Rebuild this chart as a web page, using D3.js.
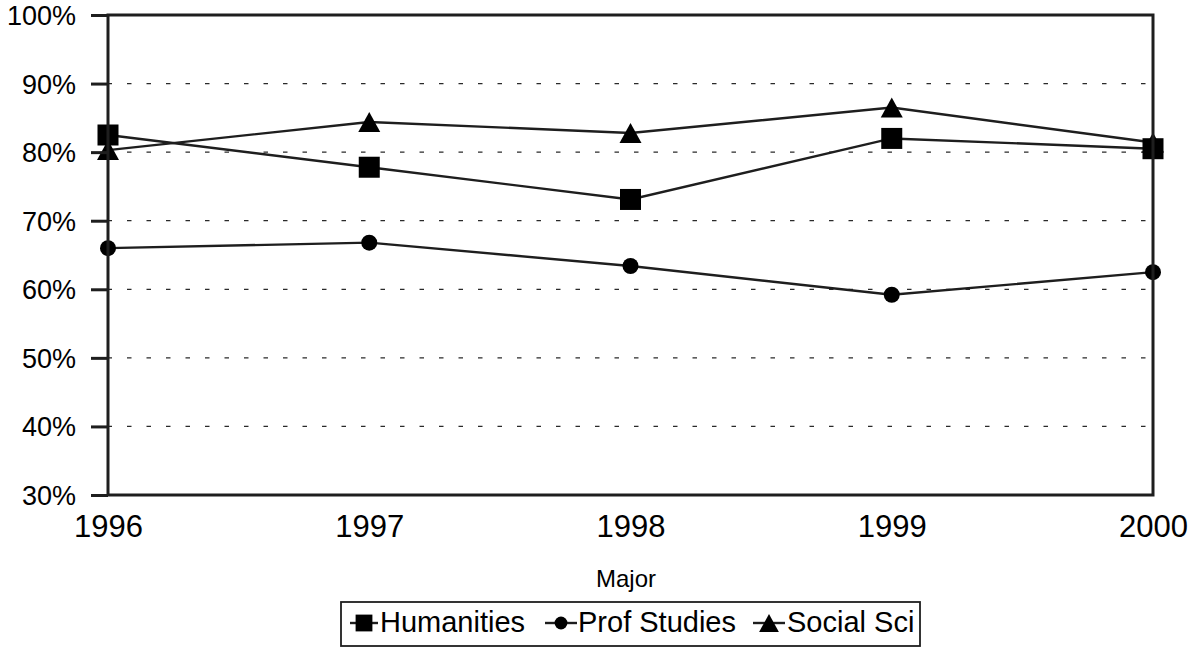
<!DOCTYPE html>
<html>
<head>
<meta charset="utf-8">
<script src="https://cdn.jsdelivr.net/npm/d3@7/dist/d3.min.js"></script>
<style>
  html, body { margin: 0; padding: 0; background: #fff; }
  svg { display: block; font-family: "Liberation Sans", Arial, sans-serif; }
</style>
</head>
<body>
<svg id="chart" width="1193" height="647"></svg>
<script>
const years = ["1996", "1997", "1998", "1999", "2000"];
const humanities = [82.5, 77.8, 73.1, 82.0, 80.5];
const profStudies = [66.0, 66.8, 63.4, 59.2, 62.5];
const socialSci = [80.3, 84.4, 82.8, 86.5, 81.4];
const yTicks = [30, 40, 50, 60, 70, 80, 90, 100];
const seriesNames = ["Humanities", "Prof Studies", "Social Sci"];
const xTitle = "Major";

const series = [
  { name: seriesNames[0], values: humanities, shape: "square" },
  { name: seriesNames[1], values: profStudies, shape: "circle" },
  { name: seriesNames[2], values: socialSci, shape: "triangle" }
];

const svg = d3.select("#chart");
const L = 108, R = 1153, T = 15, B = 495;
const ink = "#1e1e1e";

const x = d3.scalePoint().domain(years).range([L, R]);
const y = d3.scaleLinear().domain([30, 100]).range([B, T]);

// gridlines
svg.append("g").selectAll("line")
  .data(yTicks.filter(d => d > 30 && d < 100))
  .join("line")
  .attr("x1", L).attr("x2", R)
  .attr("y1", d => y(d)).attr("y2", d => y(d))
  .attr("stroke", "#2a2a2a").attr("stroke-width", 1.3)
  .attr("stroke-dasharray", "4.5,15").attr("stroke-dashoffset", 0.5);

// lines
const line = d3.line().x((d, i) => x(years[i])).y(d => y(d));
svg.append("g").selectAll("path")
  .data(series)
  .join("path")
  .attr("d", s => line(s.values))
  .attr("fill", "none").attr("stroke", ink).attr("stroke-width", 2.4);

function drawMarker(g, shape, cx, cy, scale) {
  const k = scale || 1;
  if (shape === "square") {
    const s = 21 * k;
    g.append("rect").attr("x", cx - s / 2).attr("y", cy - s / 2)
      .attr("width", s).attr("height", s).attr("fill", "#000");
  } else if (shape === "circle") {
    g.append("circle").attr("cx", cx).attr("cy", cy).attr("r", 8 * k).attr("fill", "#000");
  } else {
    const hw = 11 * k, hh = 10 * k;
    g.append("path")
      .attr("d", `M${cx},${cy - hh}L${cx + hw},${cy + hh}L${cx - hw},${cy + hh}Z`)
      .attr("fill", "#000");
  }
}

// markers: draw in order Prof, Social, Humanities (Humanities on top)
const markerG = svg.append("g");
[series[1], series[2], series[0]].forEach(s => {
  s.values.forEach((v, i) => drawMarker(markerG, s.shape, x(years[i]), y(v)));
});

// y axis with outward ticks
const yAxis = d3.axisLeft(y).tickValues(yTicks).tickSize(17).tickPadding(15)
  .tickFormat(d => d + "%");
const yg = svg.append("g").attr("transform", `translate(${L},0)`).call(yAxis);
yg.select(".domain").remove();
yg.selectAll(".tick line").attr("stroke", ink).attr("stroke-width", 3);
yg.selectAll(".tick text").attr("fill", "#000").attr("font-size", 27)
  .attr("font-family", "Liberation Sans, Arial, sans-serif").attr("dy", "0.35em");

// x axis labels
const xAxis = d3.axisBottom(x).tickSize(0).tickPadding(20);
const xg = svg.append("g").attr("transform", `translate(0,${B})`).call(xAxis);
xg.select(".domain").remove();
xg.selectAll(".tick text").attr("fill", "#000").attr("font-size", 31)
  .attr("font-family", "Liberation Sans, Arial, sans-serif");

// frame
svg.append("rect").attr("x", L).attr("y", T).attr("width", R - L).attr("height", B - T)
  .attr("fill", "none").attr("stroke", ink).attr("stroke-width", 3);

// axis title
svg.append("text").attr("x", 626).attr("y", 587).attr("text-anchor", "middle")
  .attr("font-size", 24).attr("fill", "#000").text(xTitle);

// legend
const lg = svg.append("g");
lg.append("rect").attr("x", 341).attr("y", 602).attr("width", 579).attr("height", 44)
  .attr("fill", "#fff").attr("stroke", ink).attr("stroke-width", 1.8);
const legendPos = [
  { lx1: 350, lx2: 378, tx: 380 },
  { lx1: 545, lx2: 577, tx: 578 },
  { lx1: 753, lx2: 785, tx: 787 }
];
const legY = 623;
series.forEach((s, i) => {
  const p = legendPos[i];
  lg.append("line").attr("x1", p.lx1).attr("x2", p.lx2).attr("y1", legY).attr("y2", legY)
    .attr("stroke", ink).attr("stroke-width", 2.4);
  drawMarker(lg, s.shape, (p.lx1 + p.lx2) / 2, legY, s.shape === "triangle" ? 0.9 : 0.8);
  lg.append("text").attr("x", p.tx).attr("y", 632).attr("font-size", 29).attr("fill", "#000")
    .text(s.name);
});
</script>
</body>
</html>
